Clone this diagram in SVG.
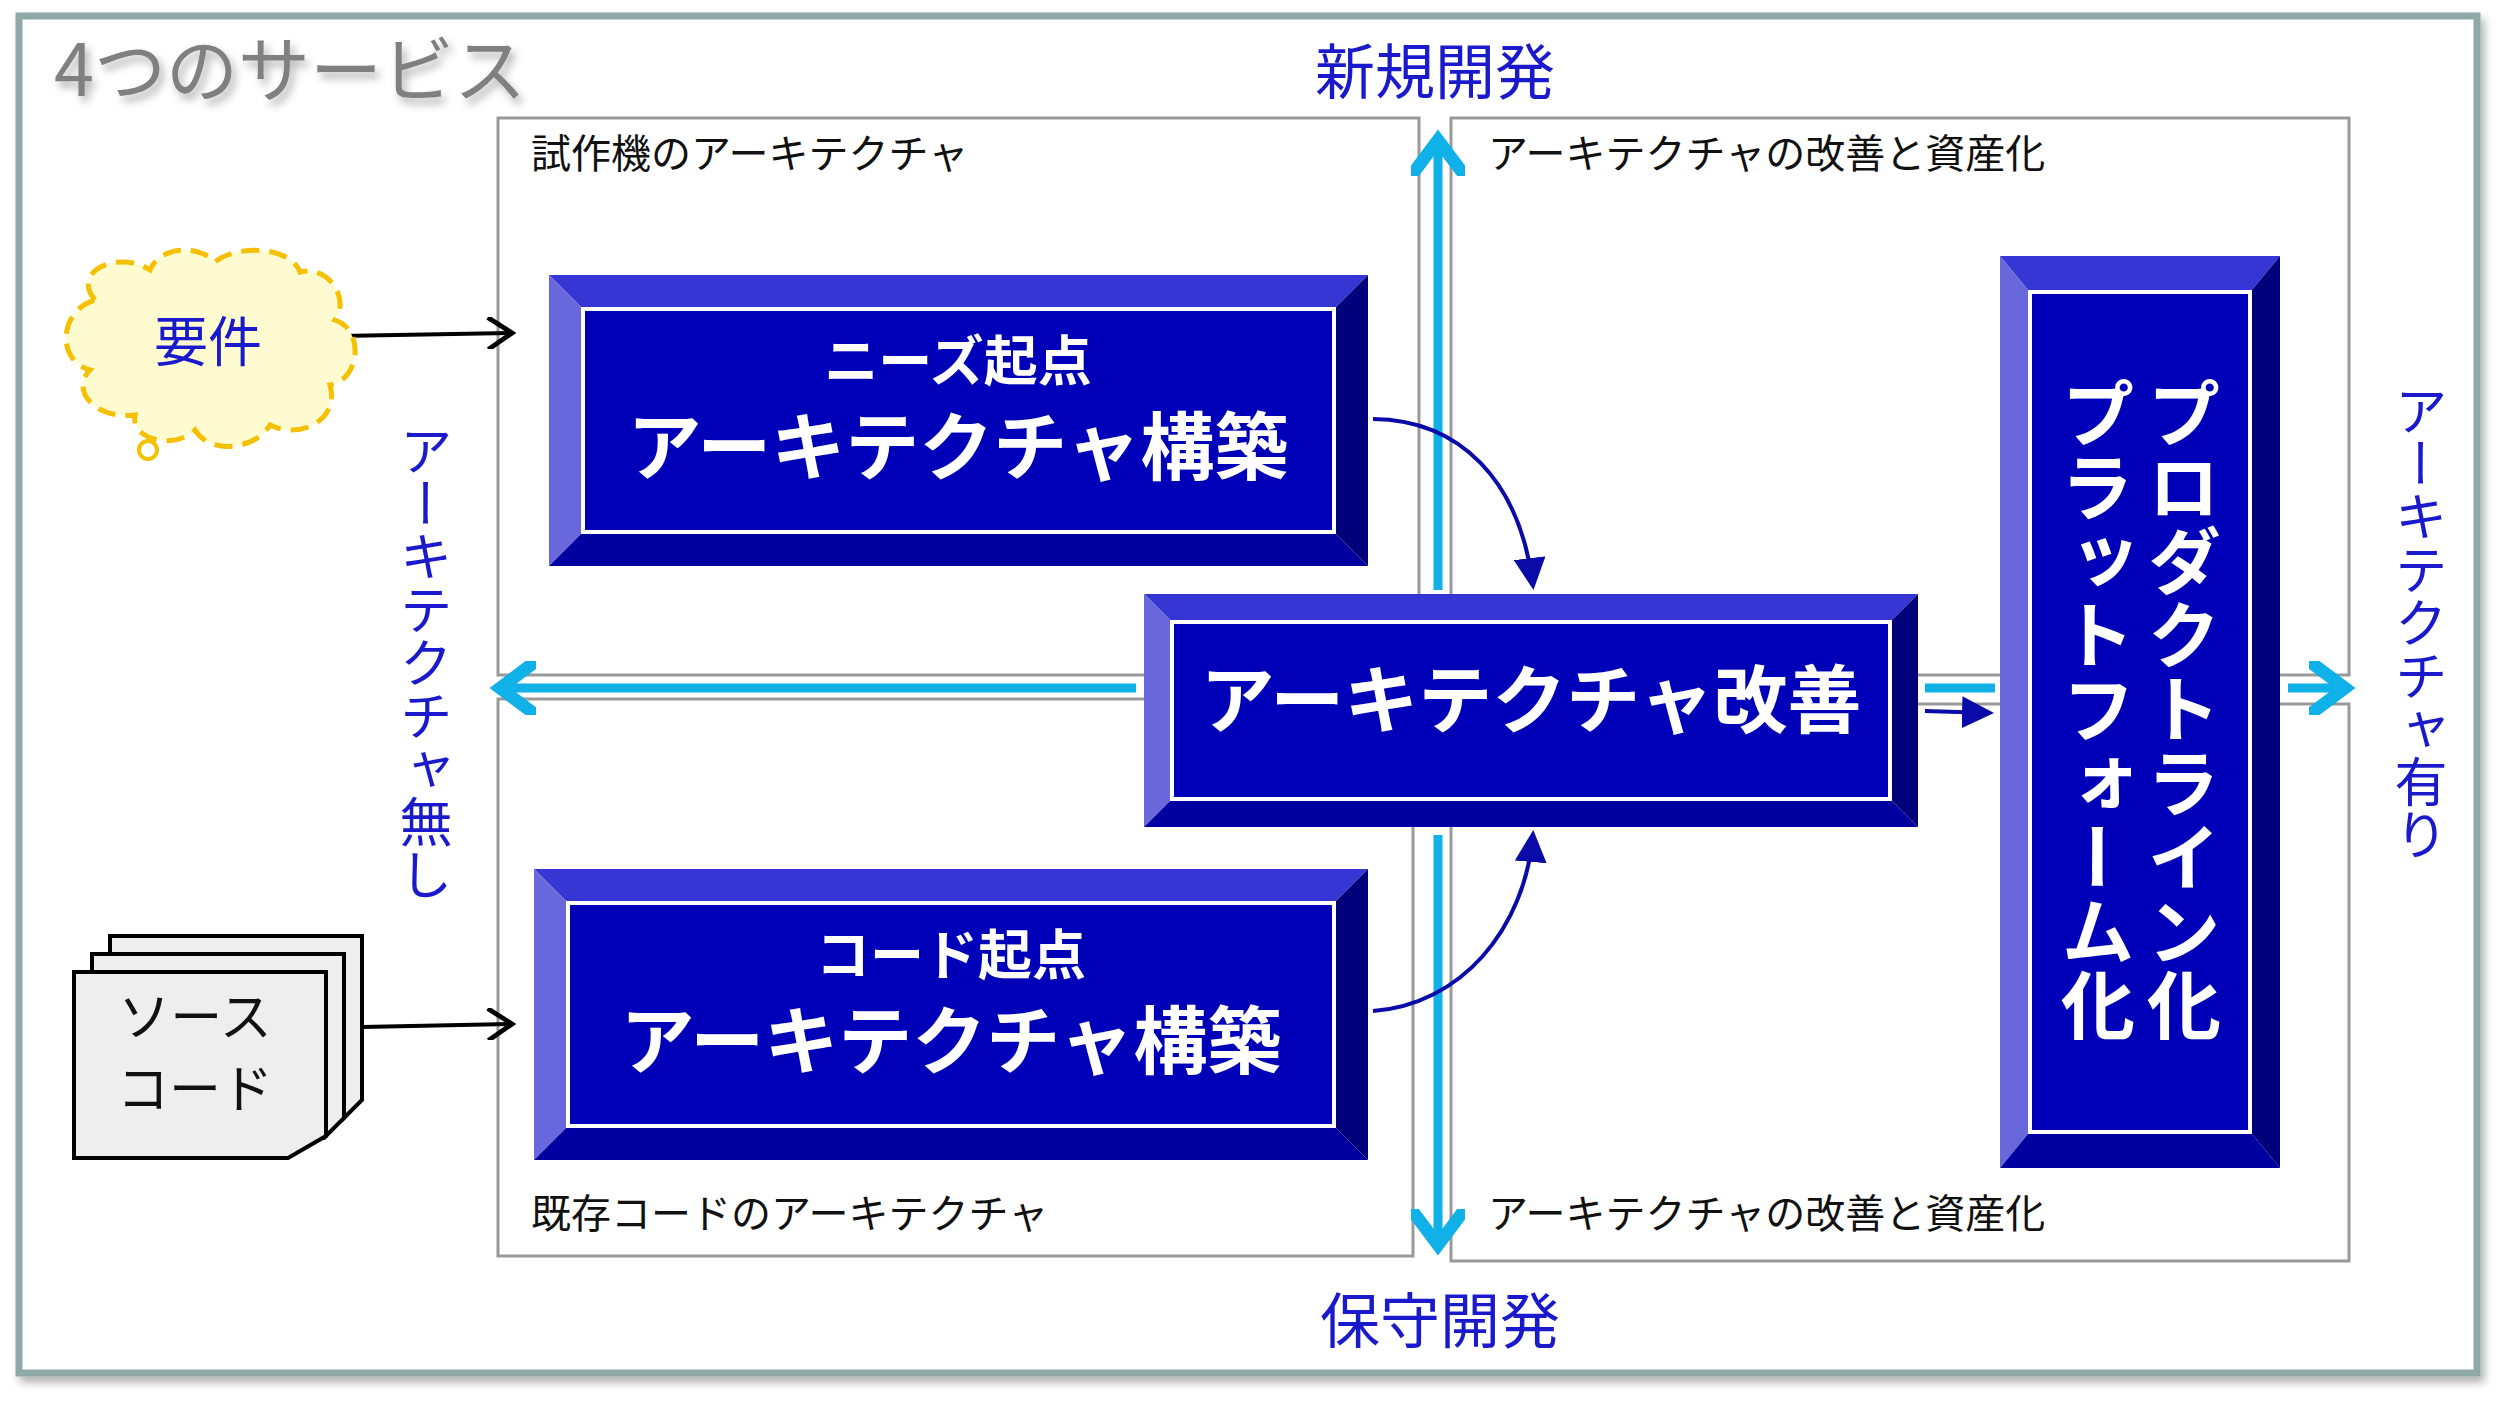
<svg xmlns="http://www.w3.org/2000/svg" width="2510" height="1407" viewBox="0 0 2510 1407">
<defs>
<style>
.jp{font-family:"Noto Sans CJK JP","Noto Sans",sans-serif}
.lbl{font-size:40px;fill:#111}
.blue{fill:#1a1acc}
.wb{fill:#fff;font-weight:bold}
.area{fill:#fff;stroke:#999;stroke-width:3}
.bt{fill:#3636d4}.bl{fill:#6868dc}.br{fill:#00007a}.bb{fill:#0000a0}
.face{fill:#0000b8;stroke:#fff;stroke-width:4}
.cy{stroke:#10b0e8;stroke-width:9;fill:none}
.dk{stroke:#0a0aa8;stroke-width:4;fill:none}
</style>
<marker id="ac" markerWidth="6" markerHeight="6" refX="4" refY="3" orient="auto" markerUnits="strokeWidth"><path d="M0,0 L4,3 L0,6" fill="none" stroke="#10b0e8" stroke-width="1.4"/></marker>
<marker id="ad" markerWidth="8" markerHeight="8" refX="7" refY="4" orient="auto" markerUnits="strokeWidth"><path d="M0,0 L8,4 L0,8 Z" fill="#0a0aa8"/></marker>
<marker id="ab" markerWidth="8" markerHeight="8" refX="7" refY="4" orient="auto" markerUnits="strokeWidth"><path d="M1,0 L7,4 L1,8" fill="none" stroke="#000" stroke-width="1.2"/></marker>
<filter id="sh"><feDropShadow dx="4" dy="6" stdDeviation="4" flood-color="#000" flood-opacity="0.3"/></filter>
</defs>
<rect width="2510" height="1407" fill="#fff"/>
<rect x="19" y="16" width="2458" height="1357" fill="#fff" stroke="#8fa8a8" stroke-width="7" filter="url(#sh)"/>
<text x="54" y="96" class="jp" font-size="72" fill="#808080" filter="url(#sh)">4つのサービス</text>

<g id="areas">
<rect class="area" x="498" y="118" width="921" height="557"/>
<rect class="area" x="498" y="699" width="915" height="557"/>
<rect class="area" x="1451" y="118" width="898" height="557"/>
<rect class="area" x="1451" y="704" width="898" height="557"/>
<text x="531" y="168" class="jp lbl">試作機のアーキテクチャ</text>
<text x="1488" y="168" class="jp lbl">アーキテクチャの改善と資産化</text>
<text x="531" y="1228" class="jp lbl">既存コードのアーキテクチャ</text>
<text x="1488" y="1228" class="jp lbl">アーキテクチャの改善と資産化</text>
</g>

<text x="1435" y="94" class="jp blue" font-size="60" text-anchor="middle">新規開発</text>
<text x="1440" y="1343" class="jp blue" font-size="60" text-anchor="middle">保守開発</text>
<text x="426" y="424" class="jp blue" font-size="53" writing-mode="vertical-rl">アーキテクチャ無し</text>
<text x="2421" y="384" class="jp blue" font-size="53" writing-mode="vertical-rl">アーキテクチャ有り</text>

<g id="connectors">
<line class="cy" x1="1438" y1="590" x2="1438" y2="140" marker-end="url(#ac)"/>
<line class="cy" x1="1438" y1="835" x2="1438" y2="1245" marker-end="url(#ac)"/>
<line class="cy" x1="1136" y1="688" x2="500" y2="688" marker-end="url(#ac)"/>
<line class="cy" x1="1925" y1="688" x2="1995" y2="688"/>
<line class="cy" x1="2288" y1="688" x2="2345" y2="688" marker-end="url(#ac)"/>
<line class="dk" x1="1925" y1="711" x2="1990" y2="713" marker-end="url(#ad)"/>
<path class="dk" d="M1373,419 C1460,420 1520,480 1533,586" marker-end="url(#ad)"/>
<path class="dk" d="M1373,1011 C1460,1005 1525,930 1533,834" marker-end="url(#ad)"/>
<line x1="339" y1="336" x2="512" y2="333" stroke="#000" stroke-width="4" marker-end="url(#ab)"/>
<line x1="362" y1="1027" x2="512" y2="1024" stroke="#000" stroke-width="4" marker-end="url(#ab)"/>
</g>

<g id="req">
<path d="M95,300 C70,270 120,250 150,270 C160,245 200,245 215,262 C235,245 290,245 300,272 C330,265 350,300 335,320 C365,330 360,380 330,385 C340,420 300,440 270,425 C255,450 210,455 195,430 C175,450 130,440 135,415 C95,420 70,390 90,370 C55,360 60,310 95,300 Z" fill="#fffbd0" stroke="#f5c000" stroke-width="5" stroke-dasharray="18 10"/>
<circle cx="148" cy="450" r="9" fill="none" stroke="#f5c000" stroke-width="4"/>
<text x="208" y="362" class="jp blue" font-size="54" text-anchor="middle">要件</text>
</g>

<g id="src">
<path d="M110,936 H362 V1100 L342,1120 H110 Z" fill="#eee" stroke="#000" stroke-width="4"/>
<path d="M92,954 H344 V1118 L324,1138 H92 Z" fill="#eee" stroke="#000" stroke-width="4"/>
<path d="M74,972 H326 V1136 L288,1158 H74 Z" fill="#eee" stroke="#000" stroke-width="4"/>
<text x="195" y="1036" class="jp" font-size="52" fill="#111" text-anchor="middle">ソース</text>
<text x="195" y="1108" class="jp" font-size="52" fill="#111" text-anchor="middle">コード</text>
</g>

<g id="needs">
<polygon class="bt" points="549,275 1368,275 1336,307 581,307"/>
<polygon class="bl" points="549,275 581,307 581,534 549,566"/>
<polygon class="br" points="1368,275 1368,566 1336,534 1336,307"/>
<polygon class="bb" points="549,566 581,534 1336,534 1368,566"/>
<rect class="face" x="583" y="309" width="751" height="223"/>
<text x="958" y="381" class="jp wb" font-size="54" text-anchor="middle">ニーズ起点</text>
<text x="958" y="474" class="jp wb" font-size="74" text-anchor="middle">アーキテクチャ構築</text>
</g>

<g id="code">
<polygon class="bt" points="534,869 1368,869 1336,901 566,901"/>
<polygon class="bl" points="534,869 566,901 566,1128 534,1160"/>
<polygon class="br" points="1368,869 1368,1160 1336,1128 1336,901"/>
<polygon class="bb" points="534,1160 566,1128 1336,1128 1368,1160"/>
<rect class="face" x="568" y="903" width="766" height="223"/>
<text x="951" y="975" class="jp wb" font-size="54" text-anchor="middle">コード起点</text>
<text x="951" y="1068" class="jp wb" font-size="74" text-anchor="middle">アーキテクチャ構築</text>
</g>

<g id="improve">
<polygon class="bt" points="1144,594 1918,594 1892,620 1170,620"/>
<polygon class="bl" points="1144,594 1170,620 1170,801 1144,827"/>
<polygon class="br" points="1918,594 1918,827 1892,801 1892,620"/>
<polygon class="bb" points="1144,827 1170,801 1892,801 1918,827"/>
<rect class="face" x="1172" y="622" width="718" height="177"/>
<text x="1531" y="727" class="jp wb" font-size="74" text-anchor="middle">アーキテクチャ改善</text>
</g>

<g id="platform">
<polygon class="bt" points="2000,256 2280,256 2252,290 2028,290"/>
<polygon class="bl" points="2000,256 2028,290 2028,1134 2000,1168"/>
<polygon class="br" points="2280,256 2280,1168 2252,1134 2252,290"/>
<polygon class="bb" points="2000,1168 2028,1134 2252,1134 2280,1168"/>
<rect class="face" x="2030" y="292" width="220" height="840"/>
<text x="2184" y="376" class="jp wb" font-size="74" writing-mode="vertical-rl">プロダクトライン化</text>
<text x="2098" y="376" class="jp wb" font-size="74" writing-mode="vertical-rl">プラットフォーム化</text>
</g>
</svg>
